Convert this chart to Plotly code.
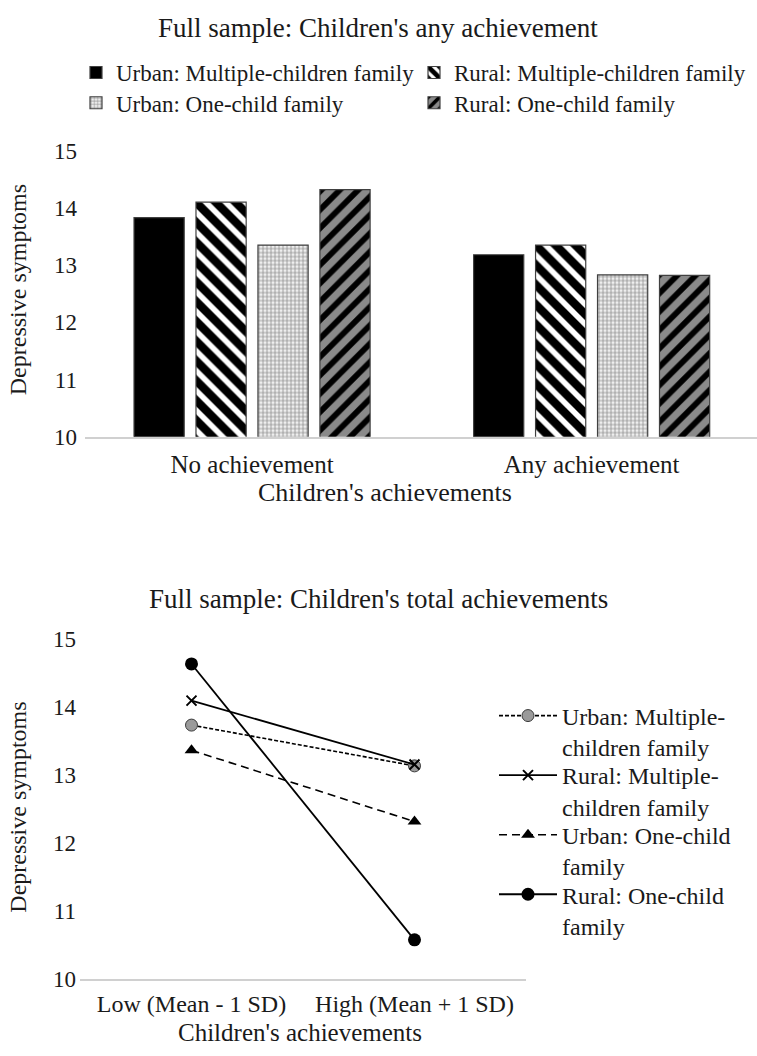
import plotly.graph_objects as go

W, H = 757, 1056

# ---- Data: top chart (bars) ----
bar_categories = ["No achievement", "Any achievement"]
urban_multi_bar = [13.83, 13.18]
rural_multi_bar = [14.10, 13.35]
urban_one_bar = [13.35, 12.83]
rural_one_bar = [14.32, 12.82]

# ---- Data: bottom chart (lines) ----
line_categories = ["Low (Mean - 1 SD)", "High (Mean + 1 SD)"]
urban_multi_line = [13.73, 13.13]
rural_multi_line = [14.09, 13.15]
urban_one_line = [13.36, 12.31]
rural_one_line = [14.63, 10.57]

y_ticks = [10, 11, 12, 13, 14, 15]

FONT = '"Times New Roman", "Liberation Serif", Times, serif'
TXT = "#1a1a1a"


def f(size):
    return dict(family=FONT, size=size, color=TXT)


def px_x(p):
    return p / W


def px_y(p):
    return 1 - p / H


fig = go.Figure()

outline = dict(color="#404040", width=1.2)

fig.add_trace(go.Bar(
    x=bar_categories, y=urban_multi_bar, name="Urban: Multiple-children family",
    marker=dict(color="#000000", line=outline),
    xaxis="x", yaxis="y", legend="legend",
))
fig.add_trace(go.Bar(
    x=bar_categories, y=rural_multi_bar, name="Rural: Multiple-children family",
    marker=dict(color="#ffffff", line=outline,
                pattern=dict(shape="\\", fgcolor="#000000", bgcolor="#ffffff",
                             fgopacity=1, size=14, solidity=0.6)),
    xaxis="x", yaxis="y", legend="legend3",
))
fig.add_trace(go.Bar(
    x=bar_categories, y=urban_one_bar, name="Urban: One-child family",
    marker=dict(color="#dddddd", line=outline,
                pattern=dict(shape="+", fgcolor="#8a8a8a", bgcolor="#eeeeee",
                             fgopacity=1, size=4, solidity=0.35)),
    xaxis="x", yaxis="y", legend="legend7",
))
fig.add_trace(go.Bar(
    x=bar_categories, y=rural_one_bar, name="Rural: One-child family",
    marker=dict(color="#8a8a8a", line=outline,
                pattern=dict(shape="/", fgcolor="#000000", bgcolor="#8a8a8a",
                             fgopacity=1, size=13, solidity=0.45)),
    xaxis="x", yaxis="y", legend="legend8",
))

# ---- lines ----
fig.add_trace(go.Scatter(
    x=line_categories, y=urban_multi_line, mode="lines+markers",
    name="Urban: Multiple-<br>children family",
    line=dict(color="#000000", width=1.6, dash="4px,2px"),
    marker=dict(symbol="circle", size=12, color="#9a9a9a",
                line=dict(color="#3a3a3a", width=1)),
    xaxis="x2", yaxis="y2", legend="legend2",
))
fig.add_trace(go.Scatter(
    x=line_categories, y=rural_multi_line, mode="lines+markers",
    name="Rural: Multiple-<br>children family",
    line=dict(color="#000000", width=1.8),
    marker=dict(symbol="x-thin", size=10, color="#000000",
                line=dict(color="#000000", width=2)),
    xaxis="x2", yaxis="y2", legend="legend4",
))
fig.add_trace(go.Scatter(
    x=line_categories, y=urban_one_line, mode="lines+markers",
    name="Urban: One-child<br>family",
    line=dict(color="#000000", width=1.6, dash="8px,5px"),
    marker=dict(symbol="triangle-up", size=12, color="#000000"),
    xaxis="x2", yaxis="y2", legend="legend5",
))
fig.add_trace(go.Scatter(
    x=line_categories, y=rural_one_line, mode="lines+markers",
    name="Rural: One-child<br>family",
    line=dict(color="#000000", width=1.8),
    marker=dict(symbol="circle", size=13, color="#000000"),
    xaxis="x2", yaxis="y2", legend="legend6",
))

# top plot geometry (pixels)
top_l, top_r, top_t, top_b = 85, 757, 142, 435
# bottom plot geometry (pixels)
bot_l, bot_r, bot_t, bot_b = 80, 526, 642, 990


def top_leg(x, y):
    return dict(
        orientation="h", xanchor="left", yanchor="top",
        x=px_x(x), y=px_y(y), font=f(23),
        itemwidth=30, bgcolor="rgba(0,0,0,0)",
    )


def bot_leg(y):
    return dict(
        orientation="v", x=px_x(494), y=px_y(y), xanchor="left", yanchor="top",
        font=f(24), valign="top", bgcolor="rgba(0,0,0,0)", itemwidth=58,
    )


fig.update_layout(
    width=W, height=H,
    margin=dict(l=0, r=0, t=0, b=0),
    paper_bgcolor="white", plot_bgcolor="white",
    font=f(23),
    barmode="group", bargap=0.27, bargroupgap=0.19,
    xaxis=dict(
        domain=[px_x(top_l), px_x(top_r)], anchor="y",
        range=[-0.492, 1.487], showline=True, linecolor="#d0d0d0", linewidth=1.5,
        showgrid=False, ticks="", ticklabelstandoff=5, tickfont=f(25),
        zeroline=False,
    ),
    yaxis=dict(
        domain=[px_y(top_b), px_y(top_t)], anchor="x",
        range=[10, 15], tickvals=y_ticks, showgrid=False, showline=False,
        zeroline=False, ticks="", ticklabelstandoff=7, tickfont=f(23),
    ),
    xaxis2=dict(
        domain=[px_x(bot_l), px_x(bot_r)], anchor="y2",
        range=[-0.5, 1.5], showline=True, linecolor="#d0d0d0", linewidth=1.5,
        showgrid=False, ticks="", ticklabelstandoff=3, tickfont=f(24),
        zeroline=False,
    ),
    yaxis2=dict(
        domain=[px_y(bot_b), px_y(bot_t)], anchor="x2",
        range=[10, 15], tickvals=y_ticks, showgrid=False, showline=False,
        zeroline=False, ticks="", ticklabelstandoff=3, tickfont=f(23),
    ),
    legend=top_leg(76, 40),
    legend3=top_leg(414, 40),
    legend7=top_leg(76, 71),
    legend8=top_leg(414, 71),
    legend2=bot_leg(698),
    legend4=bot_leg(759),
    legend5=bot_leg(820),
    legend6=bot_leg(881),
    showlegend=True,
)

annotations = [
    dict(text="Full sample: Children's any achievement", x=px_x(378), y=px_y(16), font=f(27)),
    dict(text="Children's achievements", x=px_x(385), y=px_y(492), font=f(26)),
    dict(text="Depressive symptoms", x=px_x(18), y=px_y(285), textangle=-90, font=f(24)),
    dict(text="Full sample: Children's total achievements", x=px_x(378), y=px_y(601), font=f(27)),
    dict(text="Children's achievements", x=px_x(300), y=px_y(1045), font=f(25)),
    dict(text="Depressive symptoms", x=px_x(18), y=px_y(815), textangle=-90, font=f(24)),
]
for a in annotations:
    fig.add_annotation(
        xref="paper", yref="paper", showarrow=False,
        xanchor="center", yanchor="middle", **a,
    )

fig.write_html(
    "out.html",
    config={"displayModeBar": False},
    post_script="document.body.style.margin='0';"
                "document.documentElement.style.overflow='hidden';",
)
